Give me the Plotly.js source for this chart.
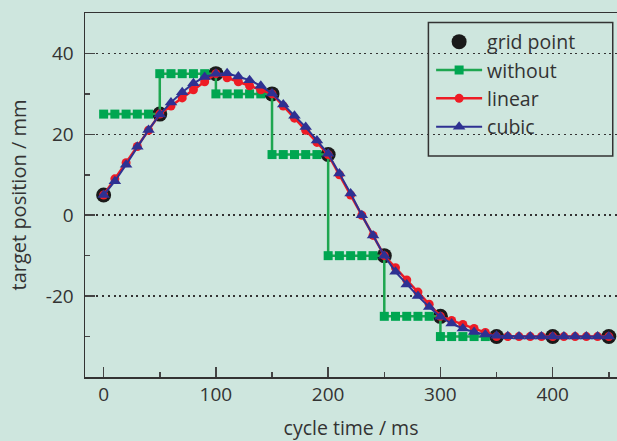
<!DOCTYPE html>
<html>
<head>
<meta charset="utf-8">
<script src="https://cdn.plot.ly/plotly-3.0.1.min.js"></script>
<style>
html,body{margin:0;padding:0;background:#cee6de;}
#chart{width:617px;height:441px;}
</style>
</head>
<body>
<div id="chart"></div>
<script>
// grid points
const gridX = [0, 50, 100, 150, 200, 250, 300, 350, 400, 450];
const gridY = [5, 25, 35, 30, 15, -10, -25, -30, -30, -30];

// without interpolation (step)
const withoutX = [0,10,20,30,40, 50,60,70,80,90, 100,110,120,130,140, 150,160,170,180,190, 200,210,220,230,240, 250,260,270,280,290, 300,310,320,330,340];
const withoutY = [25,25,25,25,25, 35,35,35,35,35, 30,30,30,30,30, 15,15,15,15,15, -10,-10,-10,-10,-10, -25,-25,-25,-25,-25, -30,-30,-30,-30,-30];

// sample times for interpolated series
const sampleX = [0,10,20,30,40,50,60,70,80,90,100,110,120,130,140,150,160,170,180,190,200,210,220,230,240,250,260,270,280,290,300,310,320,330,340,350,360,370,380,390,400,410,420,430,440,450];

// linear interpolation
const linearY = [5,9,13,17,21,25,27,29,31,33,35,34,33,32,31,30,27,24,21,18,15,10,5,0,-5,-10,-13,-16,-19,-22,-25,-26,-27,-28,-29,-30,-30,-30,-30,-30,-30,-30,-30,-30,-30,-30];

// cubic interpolation
const cubicY = [5,8.4,12.5,16.9,21.1,24.9,27.9,30.4,32.6,34.2,35.0,35.1,34.3,33.4,32.0,30.1,27.4,24.6,21.8,18.5,15.2,10.3,5.4,0,-5,-10,-14,-17.1,-20,-22.7,-25.1,-26.8,-28,-28.9,-29.5,-29.8,-29.9,-30,-30,-30,-30,-30,-30,-30,-30,-30];

const legendNames = ["grid point", "without", "linear", "cubic"];

const traces = [
  {x: gridX, y: gridY, name: legendNames[0], legendgroup: 'g1', mode: 'markers', type: 'scatter',
   marker: {symbol: 'circle', size: 15, color: '#1a1a1a'}},
  {x: withoutX, y: withoutY, name: legendNames[1], legendgroup: 'g2', mode: 'lines+markers', type: 'scatter',
   line: {color: '#1ea650', width: 2.5, shape: 'hv'},
   marker: {symbol: 'square', size: 9, color: '#00a651'}},
  {x: sampleX, y: linearY, name: legendNames[2], legendgroup: 'g3', mode: 'lines+markers', type: 'scatter',
   line: {color: '#ee1c25', width: 2.5},
   marker: {symbol: 'circle', size: 9, color: '#ee1c25'}},
  {x: sampleX, y: cubicY, name: legendNames[3], legendgroup: 'g4', mode: 'lines+markers', type: 'scatter',
   line: {color: '#2e3192', width: 2},
   marker: {symbol: 'triangle-up', size: 11, color: '#2e3192'}}
];

const fontFam = '"Open Sans", "Noto Sans", sans-serif';

const layout = {
  width: 617, height: 441,
  paper_bgcolor: '#cee6de',
  plot_bgcolor: '#cee6de',
  margin: {l: 85, r: 0, t: 13, b: 64},
  font: {family: fontFam, size: 18, color: '#333333'},
  showlegend: true,
  legend: {
    x: 0.6506, y: 0.974, xanchor: 'left', yanchor: 'top',
    bgcolor: 'rgba(0,0,0,0)', borderwidth: 0,
    font: {family: fontFam, size: 19.5, color: '#333333'},
    itemwidth: 46, tracegroupgap: 5,
    traceorder: 'normal'
  },
  shapes: [
    // legend frame
    {type: 'rect', xref: 'paper', yref: 'paper', x0: 0.6455, x1: 0.992, y0: 0.607, y1: 0.974,
     line: {color: '#333333', width: 1.5}, fillcolor: 'rgba(0,0,0,0)', layer: 'above'}
  ],
  xaxis: {
    range: [-16.6, 457.3],
    tickvals: [0, 100, 200, 300, 400],
    ticktext: ['0', '100', '200', '300', '400'],
    ticks: 'inside', ticklen: 10, tickwidth: 1.5, tickcolor: '#444444',
    minor: {tickvals: [50, 150, 250, 350, 450], ticks: 'inside', ticklen: 5, tickwidth: 1.5, tickcolor: '#444444', showgrid: false},
    showline: true, linecolor: '#333333', linewidth: 1.5, mirror: true,
    showgrid: false, zeroline: false,
    tickfont: {size: 19, color: '#333333'},
    title: {text: 'cycle time / ms', font: {size: 19.5, color: '#333333'}, standoff: 18},
    automargin: true
  },
  yaxis: {
    range: [-40, 50],
    tickvals: [-20, 0, 20, 40],
    ticktext: ['-20', '0', '20', '40'],
    ticks: 'inside', ticklen: 10, tickwidth: 1.5, tickcolor: '#444444',
    minor: {tickvals: [-30, -10, 10, 30], ticks: 'inside', ticklen: 5, tickwidth: 1.5, tickcolor: '#444444', showgrid: false},
    showline: true, linecolor: '#333333', linewidth: 1.5, mirror: false,
    showgrid: true, gridcolor: '#333333', gridwidth: 1.5, griddash: '2px,3.7px',
    zeroline: false,
    tickfont: {size: 19, color: '#333333'},
    ticklabelstandoff: 6,
    title: {text: 'target position / mm', font: {size: 20, color: '#333333'}, standoff: 14},
    automargin: true
  }
};

Plotly.newPlot('chart', traces, layout, {displayModeBar: false, staticPlot: true});
</script>
</body>
</html>
